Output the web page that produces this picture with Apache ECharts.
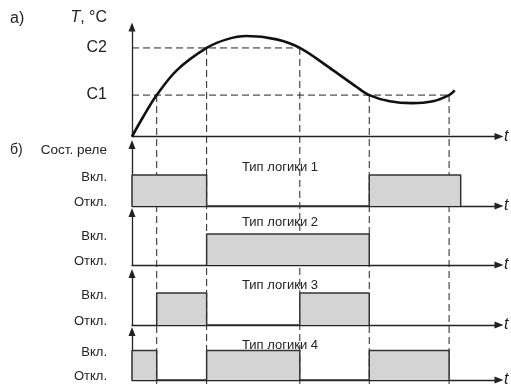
<!DOCTYPE html>
<html><head><meta charset="utf-8">
<script src="https://cdn.jsdelivr.net/npm/echarts@6/dist/echarts.min.js"></script>
<style>html,body{margin:0;padding:0;background:#fff}#c{width:511px;height:388px}</style>
</head><body><div id="c"></div>
<script>
// ---------- data ----------
const tMax = 14.85;
const TMax = 23;
const thresholdNames = ['C1', 'C2'];
const thresholds = [8.7, 18.6];
const curveT    = [0, 0.46, 1.0, 1.81, 3.02, 3.83, 4.64, 5.85, 6.79, 8.14, 9.09, 9.6, 10.43, 11.31, 12.18, 12.83, 13.06];
const curveTemp = [0, 4.2, 8.7, 13.9, 18.6, 20.4, 21.1, 20.4, 18.6, 13.9, 10.4, 8.7, 7.4, 7.0, 7.4, 8.7, 9.7];
const crossTimes  = [1.0, 3.02, 6.79, 9.6, 12.83];
const crossLevels = [8.7, 18.6, 18.6, 8.7, 8.7];
const stateLabels = ['Откл.', 'Вкл.'];
const logicNames = ['Тип логики 1', 'Тип логики 2', 'Тип логики 3', 'Тип логики 4'];
const logic1On = [[0, 3.02], [9.6, 13.3]];
const logic2On = [[3.02, 9.6]];
const logic3On = [[1.0, 3.02], [6.79, 9.6]];
const logic4On = [[0, 1.0], [3.02, 6.79], [9.6, 12.83]];
const axisTitleT = 'T, °C';
const axisTitleRelay = 'Сост. реле';
const partLabels = ['а)', 'б)'];
const timeName = 't';

// ---------- layout ----------
const FONT = "'Liberation Sans', Arial, sans-serif";
const INK = '#222';
const L = 132, R = 12;
const panels = [
  { top: 144.5, height: 61.5, yMax: 1.98, titleY: 167 },
  { top: 212.5, height: 52.5, yMax: 1.69, titleY: 222.5 },
  { top: 273.5, height: 51.5, yMax: 1.61, titleY: 285 },
  { top: 331.5, height: 52.5, yMax: 1.64, titleY: 345 }
];
const logics = [logic1On, logic2On, logic3On, logic4On];
const overlayMin = -52;

const axisLine = {
  show: true, onZero: true,
  symbol: ['none', 'triangle'], symbolSize: [7, 9],
  lineStyle: { color: INK, width: 1.3 }
};
function xAx(i, showName) {
  return {
    type: 'value', gridIndex: i, min: 0, max: tMax,
    axisLine: showName ? axisLine : { show: false },
    axisTick: { show: false }, axisLabel: { show: false }, splitLine: { show: false },
    name: showName ? timeName : '', nameLocation: 'end', nameGap: 5,
    nameTextStyle: { fontStyle: 'italic', fontSize: 16, color: INK, fontFamily: FONT }
  };
}

const grids = [{ left: L, right: R, top: 27, height: 109.5 }];
panels.forEach(p => grids.push({ left: L, right: R, top: p.top, height: p.height }));
grids.push({ left: L, right: R, top: 27, height: 357 }); // overlay for vertical guides

const xAxes = [xAx(0, true)];
panels.forEach((p, i) => xAxes.push(xAx(i + 1, true)));
xAxes.push(xAx(5, false));

const yAxes = [{
  type: 'value', gridIndex: 0, min: 0, max: TMax,
  axisLine: axisLine, axisTick: { show: false }, splitLine: { show: false },
  axisLabel: {
    customValues: thresholds, margin: 25, fontSize: 16, color: INK, fontFamily: FONT,
    formatter: v => thresholdNames[thresholds.indexOf(v)] || ''
  }
}];
panels.forEach((p, i) => yAxes.push({
  type: 'value', gridIndex: i + 1, min: 0, max: p.yMax,
  axisLine: axisLine, axisTick: { show: false }, splitLine: { show: false },
  axisLabel: {
    customValues: [0, 1], margin: 25, fontSize: 13, color: INK, fontFamily: FONT,
    formatter: v => v === 1 ? '{on|' + stateLabels[1] + '}' : '{off|' + stateLabels[0] + '}',
    rich: {
      on: { fontSize: 13, color: INK, fontFamily: FONT, padding: [4, 0, 0, 0] },
      off: { fontSize: 13, color: INK, fontFamily: FONT, padding: [0, 0, 8, 0] }
    }
  }
}));
yAxes.push({ type: 'value', gridIndex: 5, min: overlayMin, max: TMax, show: false });

const dash = { color: INK, width: 1, type: [7, 4] };
const series = [];
// horizontal threshold guides
thresholds.forEach(c => {
  const last = Math.max(...crossTimes.filter((t, k) => crossLevels[k] === c));
  series.push({ type: 'line', xAxisIndex: 0, yAxisIndex: 0, z: 1, silent: true, showSymbol: false,
    data: [[0, c], [last, c]], lineStyle: dash });
});
// vertical guides
crossTimes.forEach((t, k) => {
  series.push({ type: 'line', xAxisIndex: 5, yAxisIndex: 5, z: 1, silent: true, showSymbol: false,
    data: [[t, crossLevels[k]], [t, overlayMin]], lineStyle: dash });
});
// temperature curve
series.push({ type: 'line', xAxisIndex: 0, yAxisIndex: 0, z: 5, smooth: 0.35, showSymbol: false, silent: true,
  data: curveT.map((t, k) => [t, curveTemp[k]]), lineStyle: { color: '#111', width: 2.6 } });
// relay states
logics.forEach((iv, i) => {
  const pts = [];
  iv.forEach(([a, b]) => { pts.push([a, 0], [a, 1], [b, 1], [b, 0]); });
  series.push({ type: 'line', xAxisIndex: i + 1, yAxisIndex: i + 1, z: 3, showSymbol: false, silent: true,
    data: pts, lineStyle: { color: '#333', width: 1.5 }, areaStyle: { color: '#d4d4d4', opacity: 1, origin: 0 } });
});

const txt = (x, y, text, size, align, extra) => ({
  type: 'text', x, y, silent: true,
  style: Object.assign({ text, fontSize: size, fontFamily: FONT, fill: INK, align, verticalAlign: 'middle' }, extra || {})
});
const graphic = [
  txt(10, 19, partLabels[0], 16, 'left'),
  txt(107, 18, '{it|T}, °C', 16, 'right', { rich: { it: { fontStyle: 'italic', fontSize: 16, fontFamily: FONT, fill: INK } } }),
  txt(10, 150, partLabels[1], 14, 'left'),
  txt(107, 150, axisTitleRelay, 13.5, 'right')
];
panels.forEach((p, i) => graphic.push(txt(280, p.titleY, logicNames[i], 13, 'center')));

const chart = echarts.init(document.getElementById('c'));
chart.setOption({
  animation: false, backgroundColor: '#fff',
  grid: grids, xAxis: xAxes, yAxis: yAxes, series, graphic
});
</script></body></html>
